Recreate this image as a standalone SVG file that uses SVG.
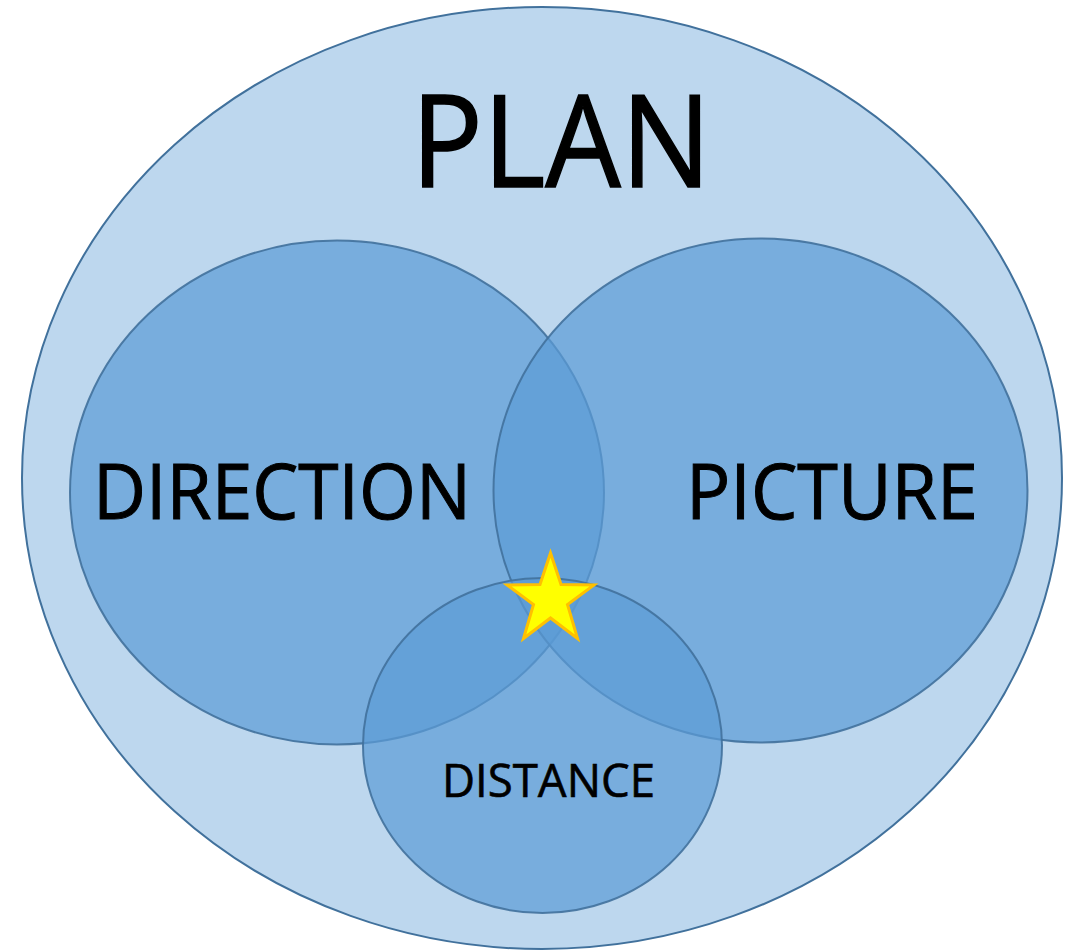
<svg xmlns="http://www.w3.org/2000/svg" width="1069" height="952" viewBox="0 0 1069 952">
  <style>
    .inner { fill: #5B9BD5; fill-opacity: 0.7; stroke: #41719C; stroke-opacity: 0.9; stroke-width: 2; }
    .lbl { font-family: "Open Sans", "Liberation Sans", sans-serif; fill: #000000; stroke: #000000; }
  </style>
  <rect width="1069" height="952" fill="#FFFFFF"/>
  <g id="plan">
    <ellipse cx="542" cy="478" rx="520" ry="471" fill="#BDD7EE" stroke="#41719C" stroke-width="2"/>
    <text class="lbl" x="411" y="187" font-size="129" stroke-width="1.5" textLength="300" lengthAdjust="spacingAndGlyphs">PLAN</text>
  </g>
  <g id="direction">
    <ellipse class="inner" cx="337" cy="492.5" rx="267" ry="252"/>
  </g>
  <g id="picture">
    <ellipse class="inner" cx="760.5" cy="490.5" rx="267" ry="252"/>
  </g>
  <g id="distance">
    <ellipse class="inner" cx="542.5" cy="745.5" rx="179.5" ry="167.5"/>
  </g>
  <g id="labels">
    <text class="lbl" x="93" y="519" font-size="76" stroke-width="1" textLength="378" lengthAdjust="spacingAndGlyphs">DIRECTION</text>
    <text class="lbl" x="686" y="519" font-size="76" stroke-width="1" textLength="292" lengthAdjust="spacingAndGlyphs">PICTURE</text>
    <text class="lbl" x="442" y="797" font-size="45" stroke-width="0.6" textLength="213" lengthAdjust="spacingAndGlyphs">DISTANCE</text>
  </g>
  <g id="star">
    <polygon points="550.5,553 561,584.5 594,585 567.5,604.5 577.5,638.5 550.5,618 523.5,638.5 533.5,604.5 507,585 540,584.5" fill="#FFFF00" stroke="#FFC000" stroke-width="3" stroke-linejoin="miter"/>
  </g>
  <g id="connectors"/>
</svg>
